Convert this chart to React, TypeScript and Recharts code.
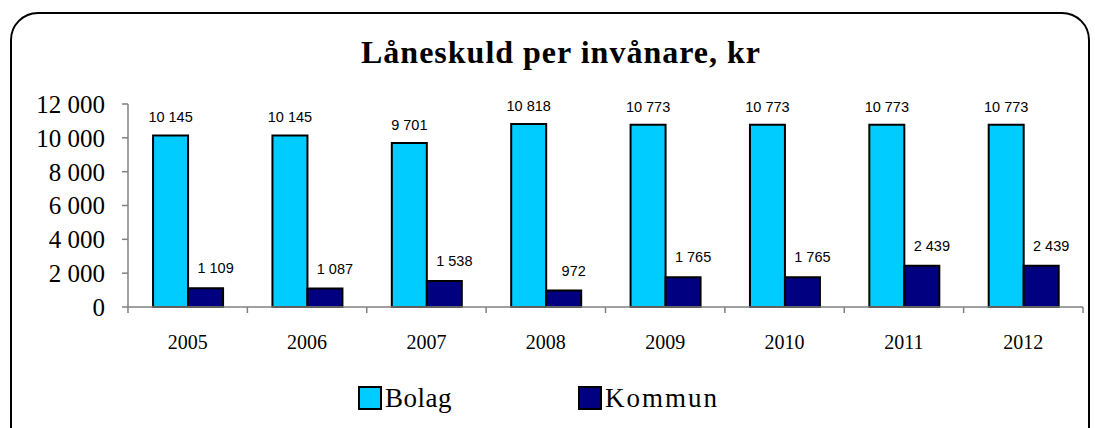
import React from 'react';
import { BarChart, Bar, XAxis, YAxis, Legend, LabelList } from 'recharts';

const years = ['2005', '2006', '2007', '2008', '2009', '2010', '2011', '2012'];
const bolag = [10145, 10145, 9701, 10818, 10773, 10773, 10773, 10773];
const kommun = [1109, 1087, 1538, 972, 1765, 1765, 2439, 2439];
const yTicks = [0, 2000, 4000, 6000, 8000, 10000, 12000];
const seriesNames = ['Bolag', 'Kommun'];
const seriesColors = ['#00CCFF', '#000080'];
const title = 'Låneskuld per invånare, kr';

const data = years.map((y, i) => ({ year: y, Bolag: bolag[i], Kommun: kommun[i] }));

const fmt = (v: number) => String(v).replace(/\B(?=(\d{3})+(?!\d))/g, ' ');

const W = 1095;
const H = 428;
const M = { top: 104, right: 12, bottom: 81, left: 0 };
const Y_W = 128;
const BAND = (W - M.left - Y_W - M.right) / years.length;

const XTick = (props: any) => {
  const { x, y, payload, index } = props;
  const half = BAND / 2;
  const axisY = y - 28;
  return (
    <g>
      <line x1={x - half} x2={x - half} y1={axisY} y2={axisY + 6} stroke="#808080" strokeWidth={1.5} />
      {index === years.length - 1 && (
        <line x1={x + half} x2={x + half} y1={axisY} y2={axisY + 6} stroke="#808080" strokeWidth={1.5} />
      )}
      <text x={x} y={y} dy="0.71em" textAnchor="middle" fontFamily="'Liberation Serif', serif" fontSize={20} fill="#000">
        {payload.value}
      </text>
    </g>
  );
};

const makeLabel = (dx: number, gap: number) => (p: any) => {
  const { x, y, width, value } = p;
  return (
    <text x={x + width / 2 + dx} y={y - gap} textAnchor="middle" fontFamily="'Liberation Sans', Arial, sans-serif" fontSize={14.5} fill="#000">
      {fmt(value)}
    </text>
  );
};

const LegendContent = () => (
  <div style={{ position: 'relative', height: 30, width: W }}>
    {seriesNames.map((n, i) => (
      <div key={n} style={{ position: 'absolute', left: 358 + i * 220, top: 0, display: 'flex', alignItems: 'center' }}>
        <div style={{ width: 20, height: 20, background: seriesColors[i], border: '2px solid #000' }} />
        <span style={{ fontFamily: "'Liberation Serif', serif", fontSize: 27, marginLeft: 3, letterSpacing: i === 1 ? 2 : 0.5, lineHeight: '24px', color: '#000' }}>{n}</span>
      </div>
    ))}
  </div>
);

export default function App() {
  return (
    <div style={{ position: 'fixed', left: 0, top: 0, width: W, height: H, overflow: 'hidden', background: '#fff' }}>
      <div style={{ position: 'absolute', left: 10, top: 12, width: 1080, height: 460, border: '2.5px solid #000', borderRadius: 28, boxSizing: 'border-box' }} />
      <div style={{ position: 'absolute', left: 0, top: 34, width: 1122, textAlign: 'center', fontFamily: "'Liberation Serif', serif", fontWeight: 'bold', fontSize: 32, letterSpacing: 1, color: '#000' }}>
        {title}
      </div>
      <div style={{ position: 'absolute', left: 0, top: 0 }}>
        <BarChart width={W} height={H} data={data} margin={M} barCategoryGap="21%" barGap={0}>
          <XAxis
            dataKey="year"
            axisLine={{ stroke: '#808080', strokeWidth: 1.5 }}
            tickLine={false}
            tickSize={6}
            tickMargin={22}
            height={40}
            tick={<XTick />}
            interval={0}
          />
          <YAxis
            domain={[0, 12000]}
            ticks={yTicks}
            width={Y_W}
            axisLine={{ stroke: '#808080', strokeWidth: 1.5 }}
            tickLine={{ stroke: '#808080', strokeWidth: 1.5 }}
            tickSize={6}
            tickMargin={17}
            tickFormatter={fmt}
            tick={{ fontFamily: "'Liberation Serif', serif", fontSize: 25, fill: '#000' }}
            interval={0}
          />
          <Legend
            layout="horizontal"
            verticalAlign="middle"
            align="center"
            wrapperStyle={{ top: 386, left: 0, width: W }}
            content={<LegendContent />}
          />
          <Bar dataKey="Bolag" fill={seriesColors[0]} stroke="#000" strokeWidth={2} isAnimationActive={false}>
            <LabelList dataKey="Bolag" content={makeLabel(0, 13)} />
          </Bar>
          <Bar dataKey="Kommun" fill={seriesColors[1]} stroke="#000" strokeWidth={2} isAnimationActive={false}>
            <LabelList dataKey="Kommun" content={makeLabel(10, 15)} />
          </Bar>
        </BarChart>
      </div>
    </div>
  );
}
